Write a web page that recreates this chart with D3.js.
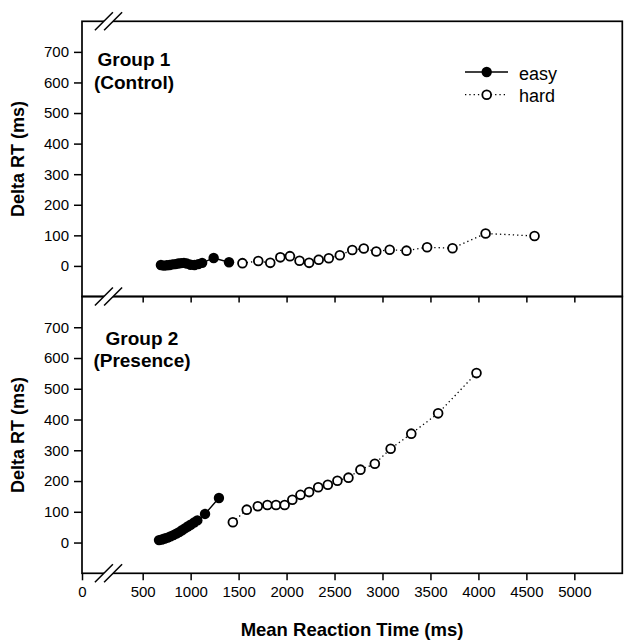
<!DOCTYPE html>
<html><head><meta charset="utf-8">
<script src="https://cdn.jsdelivr.net/npm/d3@7"></script>
<style>
body{margin:0;background:#fff;}
text{font-family:"Liberation Sans",Arial,Helvetica,sans-serif;fill:#000;}
</style></head>
<body><svg id="c" width="633" height="641"></svg>
<script>
// ---- data ----
const xTicks = [0,500,1000,1500,2000,2500,3000,3500,4000,4500,5000];
const yTicks = [0,100,200,300,400,500,600,700];
const seriesNames = ["easy","hard"];
const group1Easy = [[690,3],[720,1],[750,2],[780,3],[810,5],[840,6],[870,8],[900,9],[930,10],[960,8],[1000,4],[1040,3],[1080,6],[1120,10],[1240,26],[1400,12]];
const group1Hard = [[1540,9],[1705,16],[1830,10],[1935,28],[2035,32],[2135,17],[2235,10],[2335,20],[2440,25],[2555,35],[2685,52],[2805,57],[2935,47],[3075,53],[3250,50],[3465,61],[3730,58],[4075,106],[4585,98]];
const group2Easy = [[670,8],[700,10],[730,13],[760,16],[790,20],[820,24],[850,29],[880,34],[910,40],[940,46],[970,52],[1000,58],[1035,65],[1070,72],[1150,93],[1295,145]];
const group2Hard = [[1440,66],[1585,107],[1700,118],[1800,122],[1890,122],[1980,122],[2060,139],[2145,155],[2235,164],[2330,180],[2430,188],[2530,201],[2645,211],[2770,237],[2920,256],[3085,305],[3300,354],[3580,420],[3980,551]];
const panels = [
  {title:["Group 1","(Control)"], easy:group1Easy, hard:group1Hard},
  {title:["Group 2","(Presence)"], easy:group2Easy, hard:group2Hard}
];

// ---- layout ----
const svg = d3.select("#c");
const L = 82, R = 622.3;
const panelBox = [{top:21.3,bottom:296.5},{top:296.5,bottom:573.3}];
const titlePos = [{cx:134,y1:66,y2:88.7},{cx:142,y1:345,y2:367.3}];
const fmt = d3.format("d");

const x = d3.scaleLinear().domain([0,250,5500]).range([L,118.7,R]);
const line = (sx, sy) => d3.line().x(d=>sx(d[0])).y(d=>sy(d[1]));

panels.forEach((p,i)=>{
  const b = panelBox[i];
  const y = d3.scaleLinear().domain([-100,800]).range([b.bottom,b.top]);
  const g = svg.append("g");
  g.append("rect").attr("x",L).attr("y",b.top).attr("width",R-L).attr("height",b.bottom-b.top)
    .attr("fill","none").attr("stroke","#000").attr("stroke-width",1.7);
  const ya = g.append("g").attr("transform",`translate(${L},0)`)
    .call(d3.axisLeft(y).tickValues(yTicks).tickFormat(fmt).tickSize(8).tickPadding(5));
  ya.select(".domain").remove();
  ya.selectAll("line").attr("stroke-width",1.5);
  ya.selectAll("text").style("font-size","15px");
  const cy = (b.top+b.bottom)/2;
  g.append("text").attr("transform",`translate(24,${cy}) rotate(-90)`)
    .attr("text-anchor","middle").style("font-size","18px").style("font-weight","bold")
    .text("Delta RT (ms)");
  const t = titlePos[i];
  g.append("text").attr("x",t.cx).attr("y",t.y1).attr("text-anchor","middle")
    .style("font-size","19px").style("font-weight","bold").text(p.title[0]);
  g.append("text").attr("x",t.cx).attr("y",t.y2).attr("text-anchor","middle")
    .style("font-size","19px").style("font-weight","bold").text(p.title[1]);
  g.append("path").datum(p.hard).attr("d",line(x,y)).attr("fill","none")
    .attr("stroke","#000").attr("stroke-width",1.3).attr("stroke-dasharray","1.3,3");
  g.selectAll(".h").data(p.hard).join("circle").attr("cx",d=>x(d[0])).attr("cy",d=>y(d[1]))
    .attr("r",4.4).attr("fill","#fff").attr("stroke","#000").attr("stroke-width",1.8);
  g.append("path").datum(p.easy).attr("d",line(x,y)).attr("fill","none")
    .attr("stroke","#000").attr("stroke-width",1.4);
  g.selectAll(".e").data(p.easy).join("circle").attr("cx",d=>x(d[0])).attr("cy",d=>y(d[1]))
    .attr("r",5.2).attr("fill","#000");
});

const dv = svg.append("g").attr("transform",`translate(0,${panelBox[1].top})`)
  .call(d3.axisBottom(x).tickValues(xTicks.slice(1)).tickSize(6).tickFormat(""));
dv.select(".domain").remove();
dv.selectAll("line").attr("stroke-width",1.5);

const xa = svg.append("g").attr("transform",`translate(0,${panelBox[1].bottom})`)
  .call(d3.axisBottom(x).tickValues(xTicks).tickFormat(fmt).tickSize(7).tickPadding(6));
xa.select(".domain").remove();
xa.selectAll("line").attr("stroke-width",1.5);
xa.selectAll("text").style("font-size","15px");
svg.append("text").attr("x",352).attr("y",636).attr("text-anchor","middle")
  .style("font-size","18.5px").style("font-weight","bold").text("Mean Reaction Time (ms)");

[panelBox[0].top, panelBox[0].bottom, panelBox[1].bottom].forEach(yy=>{
  const bx = 108.5, h = 9, off = 4.6;
  svg.append("polygon")
    .attr("points",[[bx-off-h,yy+h],[bx-off+h,yy-h],[bx+off+h,yy-h],[bx+off-h,yy+h]].map(p=>p.join(",")).join(" "))
    .attr("fill","#fff");
  [-off, off].forEach(o=>{
    svg.append("line").attr("x1",bx+o-h).attr("y1",yy+h).attr("x2",bx+o+h).attr("y2",yy-h)
      .attr("stroke","#000").attr("stroke-width",1.5);
  });
});

const lg = svg.append("g");
const legY = [72, 94.7];
lg.append("line").attr("x1",465).attr("x2",508).attr("y1",legY[0]).attr("y2",legY[0])
  .attr("stroke","#000").attr("stroke-width",1.4);
lg.append("circle").attr("cx",486.7).attr("cy",legY[0]).attr("r",5.2).attr("fill","#000");
lg.append("line").attr("x1",465).attr("x2",508).attr("y1",legY[1]).attr("y2",legY[1])
  .attr("stroke","#000").attr("stroke-width",1.3).attr("stroke-dasharray","1.3,3");
lg.append("circle").attr("cx",486.7).attr("cy",legY[1]).attr("r",4.4).attr("fill","#fff")
  .attr("stroke","#000").attr("stroke-width",1.8);
seriesNames.forEach((n,i)=>{
  lg.append("text").attr("x",519).attr("y",legY[i]+7.5).style("font-size","18px").text(n);
});
</script></body></html>
